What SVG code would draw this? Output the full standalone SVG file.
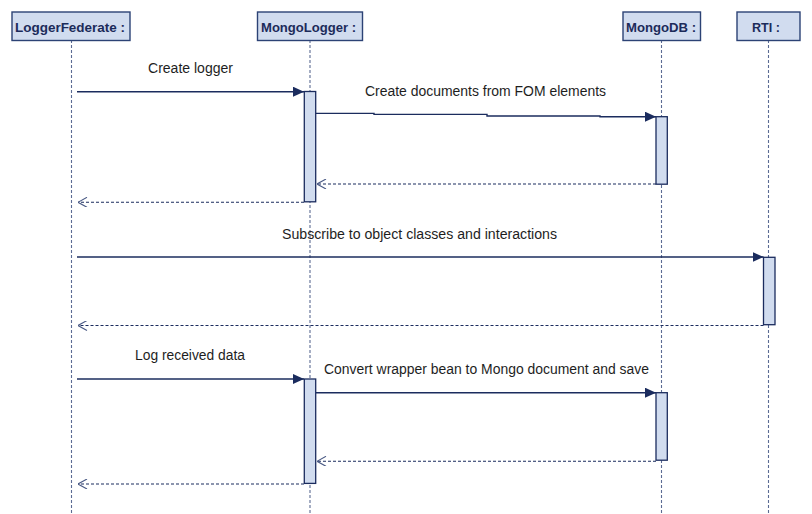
<svg xmlns="http://www.w3.org/2000/svg" width="812" height="514" viewBox="0 0 812 514">
<defs>
<style>
.hdr{fill:#d1dcef;stroke:#2c4275;stroke-width:1.4}
.hdrt{font-family:"Liberation Sans",Arial,sans-serif;font-weight:bold;font-size:13px;fill:#1c2b5a}
.life{stroke:#5b6b93;stroke-width:1.1;stroke-dasharray:3,2;fill:none}
.act{fill:#d1dcef;stroke:#1b2c5e;stroke-width:1.3}
.msg{stroke:#1b2c5e;stroke-width:1.4;fill:none}
.ret{stroke:#1b2c5e;stroke-width:1.1;stroke-dasharray:3,2;fill:none}
.lbl{font-family:"Liberation Sans",Arial,sans-serif;font-size:14px;fill:#1e1e1e}
</style>
<marker id="filled" viewBox="0 0 11 10" refX="11" refY="5" markerWidth="11" markerHeight="10" markerUnits="userSpaceOnUse" orient="auto">
<path d="M0,0 L11,5 L0,10 z" fill="#1b2c5e"/>
</marker>
<marker id="open" viewBox="0 0 10 10" refX="9.5" refY="5" markerWidth="10" markerHeight="10" markerUnits="userSpaceOnUse" orient="auto">
<path d="M0.5,0 L9.5,5 L0.5,10" fill="none" stroke="#4a5a85" stroke-width="1.1"/>
</marker>
</defs>
<rect width="812" height="514" fill="#ffffff"/>

<g id="lifelines">
<line class="life" x1="71.5" y1="40" x2="71.5" y2="514"/>
<line class="life" x1="310" y1="40" x2="310" y2="514"/>
<line class="life" x1="661.5" y1="40" x2="661.5" y2="514"/>
<line class="life" x1="768.5" y1="40" x2="768.5" y2="514"/>
</g>

<g id="LoggerFederate">
<rect class="hdr" x="12" y="12" width="118" height="28.5"/>
<text class="hdrt" x="15" y="31.5" textLength="110" lengthAdjust="spacingAndGlyphs">LoggerFederate :</text>
</g>
<g id="MongoLogger">
<rect class="hdr" x="257.5" y="12" width="105" height="28.5"/>
<text class="hdrt" x="261" y="31.5" textLength="95" lengthAdjust="spacingAndGlyphs">MongoLogger :</text>
</g>
<g id="MongoDB">
<rect class="hdr" x="623" y="12" width="77.5" height="28.5"/>
<text class="hdrt" x="626" y="31.5" textLength="70" lengthAdjust="spacingAndGlyphs">MongoDB :</text>
</g>
<g id="RTI">
<rect class="hdr" x="737" y="12" width="63" height="28.5"/>
<text class="hdrt" x="752" y="31.5" textLength="28" lengthAdjust="spacingAndGlyphs">RTI :</text>
</g>

<g id="activations">
<rect class="act" x="304.3" y="91.5" width="11.4" height="110.3"/>
<rect class="act" x="656" y="116.7" width="11.3" height="67.5"/>
<rect class="act" x="763.5" y="257.3" width="11.5" height="67.4"/>
<rect class="act" x="304.3" y="379" width="11.4" height="104.4"/>
<rect class="act" x="656" y="392.7" width="11.3" height="67.5"/>
</g>

<g id="connectors">
<line class="msg" x1="77" y1="91.7" x2="304" y2="91.7" marker-end="url(#filled)"/>
<polyline class="msg" points="316,113.4 374,113.4 374,114.4 487,114.4 487,116 600,116 600,116.7 656,116.7" marker-end="url(#filled)"/>
<line class="ret" x1="656" y1="184" x2="317" y2="184" marker-end="url(#open)"/>
<line class="ret" x1="304" y1="202.3" x2="78" y2="202.3" marker-end="url(#open)"/>
<line class="msg" x1="77" y1="257" x2="763.5" y2="257" marker-end="url(#filled)"/>
<line class="ret" x1="763.5" y1="325.5" x2="78" y2="325.5" marker-end="url(#open)"/>
<line class="msg" x1="77" y1="379" x2="304" y2="379" marker-end="url(#filled)"/>
<line class="msg" x1="316" y1="392.7" x2="656" y2="392.7" marker-end="url(#filled)"/>
<line class="ret" x1="656" y1="461.3" x2="317" y2="461.3" marker-end="url(#open)"/>
<line class="ret" x1="304" y1="484" x2="78" y2="484" marker-end="url(#open)"/>
</g>

<g id="labels">
<text class="lbl" x="148" y="73.3" textLength="85" lengthAdjust="spacingAndGlyphs">Create logger</text>
<text class="lbl" x="365" y="96" textLength="241" lengthAdjust="spacingAndGlyphs">Create documents from FOM elements</text>
<text class="lbl" x="282" y="238.5" textLength="275" lengthAdjust="spacingAndGlyphs">Subscribe to object classes and interactions</text>
<text class="lbl" x="135" y="360" textLength="110" lengthAdjust="spacingAndGlyphs">Log received data</text>
<text class="lbl" x="324" y="373.5" textLength="325" lengthAdjust="spacingAndGlyphs">Convert wrapper bean to Mongo document and save</text>
</g>
</svg>
